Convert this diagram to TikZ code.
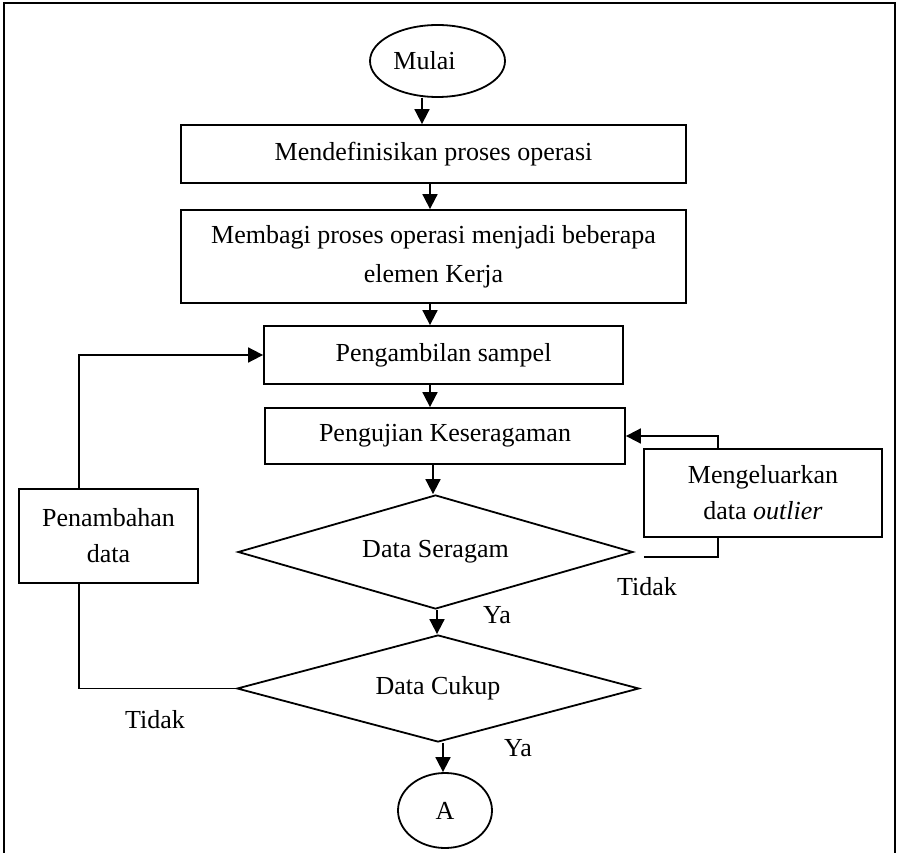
\documentclass[tikz,border=0pt]{standalone}
\usepackage{fontspec}
\setmainfont{Liberation Serif}
\usetikzlibrary{shapes.geometric,arrows.meta,calc}
\begin{document}
\begin{tikzpicture}[x=1pt,y=-1pt,line width=1.8pt,
  every node/.style={font=\fontsize{26}{36}\selectfont},
  boxnode/.style={draw,rectangle,inner sep=0pt,align=center},
  ellnode/.style={draw,ellipse,inner sep=0pt},
  dianode/.style={draw,diamond,inner sep=0pt,aspect=3.5},
  lbl/.style={inner sep=0pt},
  arr/.style={-{Triangle[length=15pt,width=15pt]}}]
\useasboundingbox (0,0) rectangle (898,853);
% frame
\draw (4,853) -- (4,3) -- (895,3) -- (895,853);
% column coordinates
\coordinate (colA) at (422,0);
\coordinate (colB) at (430,0);
\coordinate (colC) at (433,0);
\coordinate (colD) at (437,0);
\coordinate (colE) at (443,0);
% nodes
\node[ellnode,minimum width=135,minimum height=72,label={[lbl,xshift=-13pt]center:Mulai}] (mulai) at (437.5,61) {};
\node[boxnode,minimum width=505,minimum height=58] (b1) at (433.5,154) {Mendefinisikan proses operasi};
\node[boxnode,minimum width=505,minimum height=93,font=\fontsize{26}{39}\selectfont] (b2) at (433.5,256.5) {Membagi proses operasi menjadi beberapa\\elemen Kerja};
\node[boxnode,minimum width=359,minimum height=58] (b3) at (443.5,355) {Pengambilan sampel};
\node[boxnode,minimum width=360,minimum height=56] (b4) at (445,436) {Pengujian Keseragaman};
\node[dianode,minimum width=395,minimum height=114] (d1) at (435.5,552) {Data Seragam};
\node[dianode,minimum width=402,minimum height=107] (d2) at (438,688.5) {Data Cukup};
\node[ellnode,minimum width=94,minimum height=75] (a) at (445,810.5) {A};
\node[boxnode,minimum width=238,minimum height=88] (out) at (763,493) {Mengeluarkan\\data \textit{outlier}};
\node[boxnode,minimum width=179,minimum height=94] (pen) at (108.5,536) {Penambahan\\data};
% labels
\node[lbl] (ya1) at (497,615) {Ya};
\node[lbl] (ya2) at (518,748) {Ya};
\node[lbl] (tidak1) at (647,587) {Tidak};
\node[lbl] (tidak2) at (155,720) {Tidak};
% main arrows
\draw[arr] (mulai.south -| colA) -- (b1.north -| colA);
\draw[arr] (b1.south -| colB) -- (b2.north -| colB);
\draw[arr] (b2.south -| colB) -- (b3.north -| colB);
\draw[arr] (b3.south -| colB) -- (b4.north -| colB);
\draw[arr] (b4.south -| colC) -- (d1.north -| colC);
\draw[arr] (d1.south -| colD) -- (d2.north -| colD);
\draw[arr] (d2.south -| colE) -- (a.north -| colE);
% right loop
\draw ($(d1.east)+(10,5)$) -| ([xshift=-45pt]out.south);
\draw[arr] ([xshift=-45pt]out.north) |- (b4.east);
% left loop
\draw (d2.west) -| ([xshift=-29.5pt]pen.south);
\draw[arr] ([xshift=-29.5pt]pen.north) |- (b3.west);
\end{tikzpicture}
\end{document}
